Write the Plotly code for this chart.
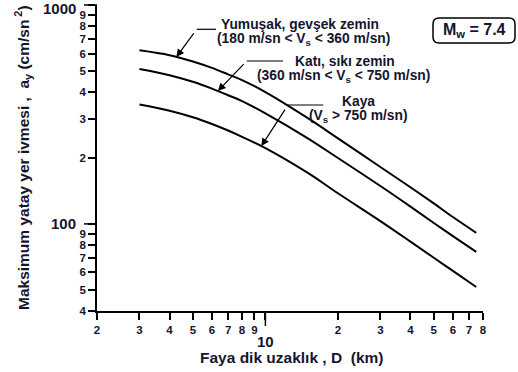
import numpy as np
import plotly.graph_objects as go

# ---- data ----
distance_km = [3, 4, 5, 6, 7, 8, 10, 15, 20, 30, 40, 50, 60, 75]
soft_soil = [621, 590, 552, 516, 482, 454, 400, 304, 246, 182, 147, 124, 107.5, 91]
stiff_soil = [510, 478, 446, 415, 387, 364, 320, 246, 200, 149, 120, 101, 88, 74.5]
rock = [351, 329, 307, 286, 267, 250, 222, 171, 138, 103, 83, 70, 61, 51.5]

x_tickvals = [2, 3, 4, 5, 6, 7, 8, 9, 10, 20, 30, 40, 50, 60, 70, 80]
x_ticktext = ["2", "3", "4", "5", "6", "7", "8", "9", " ", "2", "3", "4", "5", "6", "7", "8"]
y_tickvals = [40, 50, 60, 70, 80, 90, 100, 200, 300, 400, 500, 600, 700, 800, 900, 1000]
y_ticktext = ["4", "5", "6", "7", "8", "9", " ", "2", "3", "4", "5", "6", "7", "8", "9", " "]

X_RANGE = [2, 80]
Y_RANGE = [40, 1000]

W, H = 518, 372
L, R, T, B = 97, 35, 5, 61
PW, PH = W - L - R, H - T - B
FONT = "Liberation Sans, Arial, sans-serif"
TXT = "#15152e"


def px(xp):
    return (xp - L) / PW


def py(yp):
    return (H - B - yp) / PH


def xpaper(d):
    return (np.log10(d) - np.log10(X_RANGE[0])) / (np.log10(X_RANGE[1]) - np.log10(X_RANGE[0]))


def ypaper(v):
    return (np.log10(v) - np.log10(Y_RANGE[0])) / (np.log10(Y_RANGE[1]) - np.log10(Y_RANGE[0]))


def on_curve(d, series):
    return 10 ** np.interp(np.log10(d), np.log10(distance_km), np.log10(series))


fig = go.Figure()
for s in (soft_soil, stiff_soil, rock):
    fig.add_trace(go.Scatter(x=distance_km, y=s, mode="lines",
                             line=dict(color="black", width=2, shape="spline", smoothing=1),
                             showlegend=False, hoverinfo="skip"))

tickfont = dict(family=FONT, size=11.5, color=TXT, weight="bold")
axis_common = dict(type="log", showline=True, linecolor="black", linewidth=1.5,
                   ticks="outside", ticklen=7, tickwidth=1.5, tickcolor="black",
                   showgrid=False, zeroline=False, tickmode="array", tickfont=tickfont)

fig.update_layout(
    width=W, height=H, margin=dict(l=L, r=R, t=T, b=B, autoexpand=False),
    paper_bgcolor="white", plot_bgcolor="white",
    xaxis=dict(range=[np.log10(X_RANGE[0]), np.log10(X_RANGE[1])],
               tickvals=x_tickvals, ticktext=x_ticktext, **axis_common),
    yaxis=dict(range=[np.log10(Y_RANGE[0]), np.log10(Y_RANGE[1])],
               tickvals=y_tickvals, ticktext=y_ticktext, **axis_common),
)

shapes = []
# long ticks at decades
shapes.append(dict(type="line", xref="paper", yref="paper", x0=xpaper(10), x1=xpaper(10),
                   y0=0, y1=-15 / PH, line=dict(color="black", width=1.5)))
for v in (100, 1000):
    shapes.append(dict(type="line", xref="paper", yref="paper", x0=0, x1=-13 / PW,
                       y0=ypaper(v), y1=ypaper(v), line=dict(color="black", width=1.5)))

# leader horizontal segments
for (xa, xb, yy) in [(196.7, 216, 29.3), (246.7, 283, 61), (288, 323.3, 105)]:
    shapes.append(dict(type="line", xref="paper", yref="paper", x0=px(xa), x1=px(xb),
                       y0=py(yy), y1=py(yy), line=dict(color="black", width=1.2)))

# rounded box for Mw
x0, x1, y0, y1 = px(433), px(515), py(43), py(18)
rx, ry = 6 / PW, 6 / PH
path = (f"M {x0+rx},{y0} L {x1-rx},{y0} Q {x1},{y0} {x1},{y0+ry} L {x1},{y1-ry} "
        f"Q {x1},{y1} {x1-rx},{y1} L {x0+rx},{y1} Q {x0},{y1} {x0},{y1-ry} "
        f"L {x0},{y0+ry} Q {x0},{y0} {x0+rx},{y0} Z")
shapes.append(dict(type="path", xref="paper", yref="paper", path=path,
                   line=dict(color="black", width=1.5)))
fig.update_layout(shapes=shapes)

ann = []


def text(x, y, s, size=13.8, **kw):
    d = dict(xref="paper", yref="paper", x=x, y=y, text=s, showarrow=False,
             font=dict(family=FONT, size=size, color=TXT, weight="bold"))
    d.update(kw)
    ann.append(d)


# major tick labels
text(-19 / PW, ypaper(1000), "1000", size=15, xanchor="right", yanchor="middle", yshift=-3)
text(-19 / PW, ypaper(100), "100", size=15, xanchor="right", yanchor="middle")
text(xpaper(10), 0, "10", size=15, xanchor="center", yanchor="top", yshift=-20)

# axis titles
text(px(23), py(158), "Maksimum yatay yer ivmesi ,  a<sub>y</sub> (cm/sn<sup> 2</sup>)", size=15.5,
     textangle=-90, xanchor="center", yanchor="middle")
text(px(291.5), py(358), "Faya dik uzaklık , D  (km)", size=15.5, xanchor="center", yanchor="middle")

# curve labels
text(px(300), py(25), "Yumuşak, gevşek zemin", xanchor="center", yanchor="middle")
text(px(303), py(39.5), "(180 m/sn &lt; V<sub>s</sub> &lt; 360 m/sn)", xanchor="center", yanchor="middle")
text(px(345), py(61.5), "Katı, sıkı zemin", xanchor="center", yanchor="middle")
text(px(343), py(76.5), "(360 m/sn &lt; V<sub>s</sub> &lt; 750 m/sn)", xanchor="center", yanchor="middle")
text(px(358), py(101.5), "Kaya", xanchor="center", yanchor="middle")
text(px(358), py(116), "(V<sub>s</sub> &gt; 750 m/sn)", xanchor="center", yanchor="middle")
text(px(474), py(30.5), "M<sub>w</sub> = 7.4", size=16, xanchor="center", yanchor="middle")

# arrows to curves
for d_tip, series, tail in [(4.27, soft_soil, (196.7, 29.3)),
                            (6.35, stiff_soil, (246.7, 61)),
                            (9.62, rock, (288, 105))]:
    xt = np.log10(d_tip)
    yt = np.log10(on_curve(d_tip, series))
    tip_px_x = L + xpaper(d_tip) * PW
    tip_px_y = (H - B) - ypaper(on_curve(d_tip, series)) * PH
    ann.append(dict(xref="x", yref="y", x=xt, y=yt, text=" ", showarrow=True,
                    arrowhead=2, arrowsize=1.3, arrowwidth=1.2, arrowcolor="black",
                    ax=tail[0] - tip_px_x, ay=tail[1] - tip_px_y, standoff=0))

fig.update_layout(annotations=ann)
fig.write_html("out.html", config={"displayModeBar": False},
               post_script="document.body.style.margin='0';")
